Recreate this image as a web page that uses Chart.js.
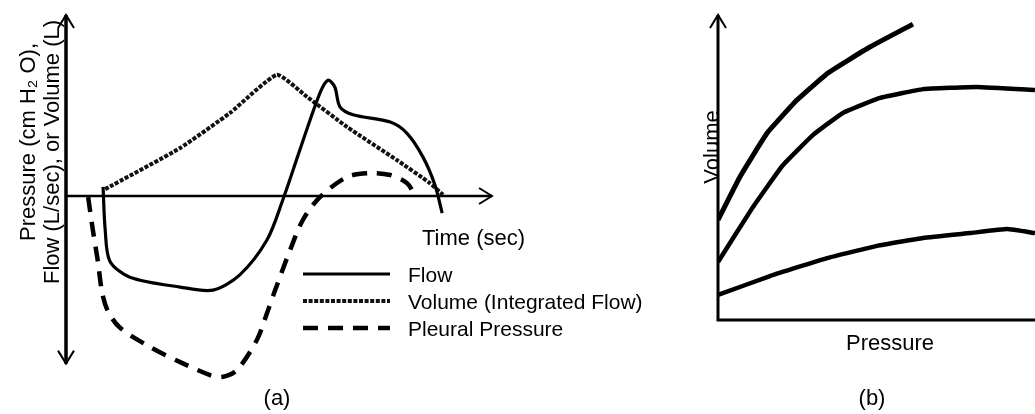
<!DOCTYPE html>
<html>
<head>
<meta charset="utf-8">
<title>Flow, volume and pleural pressure</title>
<script src="https://cdn.jsdelivr.net/npm/chart.js@4.4.0/dist/chart.umd.min.js"></script>
<style>
    body { margin: 0; background: #fff; }
    #wrapA { position: absolute; left: 0; top: 0; width: 690px; height: 414px; }
    #wrapB { position: absolute; left: 690px; top: 0; width: 345px; height: 414px; }
</style>
</head>
<body>
<div id="wrapA"><canvas id="chartA"></canvas></div>
<div id="wrapB"><canvas id="chartB"></canvas></div>
<script>
    // panel (a): time vs signal (arbitrary units)
    var flowTime = [0.87, 0.92, 1.03, 1.50, 2.68, 3.45, 4.08, 4.72, 5.09, 5.49, 5.96, 6.15, 6.31, 6.43, 6.74, 7.61, 8.00, 8.38, 8.66, 8.83];
    var flowValue = [0.24, -0.89, -1.71, -2.13, -2.39, -2.47, -2.07, -1.15, -0.10, 1.21, 2.70, 3.04, 2.86, 2.34, 2.13, 1.94, 1.65, 1.02, 0.29, -0.45];
    var volumeTime = [0.92, 2.68, 3.85, 4.95, 5.66, 6.60, 7.77, 8.54, 8.85];
    var volumeValue = [0.18, 1.26, 2.18, 3.18, 2.60, 1.81, 0.94, 0.34, 0.03];
    var pleuralTime = [0.52, 0.63, 0.75, 0.85, 0.99, 1.27, 1.97, 2.68, 3.38, 3.66, 4.01, 4.48, 4.72, 4.91, 5.26, 5.56, 5.96, 6.60, 7.14, 7.61, 8.00, 8.19];
    var pleuralValue = [-0.03, -0.89, -1.73, -2.55, -3.04, -3.46, -3.96, -4.36, -4.70, -4.75, -4.57, -3.78, -3.07, -2.47, -1.42, -0.63, -0.03, 0.50, 0.60, 0.55, 0.34, 0.03];
    var seriesNames = ["Flow", "Volume (Integrated Flow)", "Pleural Pressure"];

    // panel (b): pressure-volume curves
    var topPressure = [0, 0.69, 1.55, 2.49, 3.47, 4.79, 6.15];
    var topVolume = [3.28, 4.69, 6.13, 7.21, 8.10, 8.95, 9.70];
    var midPressure = [0, 1.10, 2.05, 3.00, 3.94, 5.11, 6.47, 8.17, 10];
    var midVolume = [1.90, 3.70, 5.08, 6.07, 6.79, 7.28, 7.57, 7.64, 7.54];
    var lowPressure = [0, 1.64, 3.44, 5.02, 6.47, 7.95, 9.12, 10];
    var lowVolume = [0.82, 1.44, 2.03, 2.43, 2.69, 2.85, 2.98, 2.85];

    var FONT = '"Liberation Sans", Arial, sans-serif';

    function pts(xs, ys) {
        return xs.map(function (x, i) { return { x: x, y: ys[i] }; });
    }

    function arrowHead(ctx, x, y, dx, dy) {
        var len = 13, half = 8;
        ctx.beginPath();
        ctx.moveTo(x - dx * len - dy * half, y - dy * len + dx * half);
        ctx.lineTo(x, y);
        ctx.lineTo(x - dx * len + dy * half, y - dy * len - dx * half);
        ctx.stroke();
    }

    function rotatedText(ctx, text, x, y) {
        ctx.save();
        ctx.translate(x, y);
        ctx.rotate(-Math.PI / 2);
        ctx.textAlign = "center";
        ctx.fillText(text, 0, 0);
        ctx.restore();
    }

    var panelA = {
        id: "panelA",
        beforeDatasetsDraw: function (chart) {
            var ctx = chart.ctx, xs = chart.scales.x, ys = chart.scales.y;
            var x0 = xs.getPixelForValue(0), y0 = ys.getPixelForValue(0);
            var top = ys.getPixelForValue(4.75), bottom = ys.getPixelForValue(-4.4);
            var right = xs.getPixelForValue(10);
            ctx.save();
            ctx.strokeStyle = "#000";
            ctx.lineWidth = 3.5;
            ctx.beginPath();
            ctx.moveTo(x0, top); ctx.lineTo(x0, bottom);
            ctx.stroke();
            ctx.lineWidth = 2.5;
            ctx.beginPath();
            ctx.moveTo(x0, y0); ctx.lineTo(right, y0);
            ctx.stroke();
            ctx.lineWidth = 2;
            arrowHead(ctx, x0, top, 0, -1);
            arrowHead(ctx, x0, bottom, 0, 1);
            arrowHead(ctx, right, y0, 1, 0);
            ctx.restore();
        },
        afterDraw: function (chart) {
            var ctx = chart.ctx;
            ctx.save();
            ctx.fillStyle = "#000";
            ctx.font = "22px " + FONT;
            rotatedText(ctx, "Pressure (cm H\u2082 O),", 35, 142);
            rotatedText(ctx, "Flow (L/sec), or Volume (L)", 59, 152);
            ctx.textAlign = "left";
            ctx.fillText("Time (sec)", 422, 245);
            ctx.textAlign = "center";
            ctx.fillText("(a)", 277, 405);

            // legend
            ctx.font = "21px " + FONT;
            ctx.textAlign = "left";
            chart.data.datasets.forEach(function (ds, i) {
                var y = 274 + i * 27;
                ctx.save();
                ctx.strokeStyle = ds.borderColor;
                ctx.lineWidth = ds.borderWidth;
                ctx.setLineDash(ds.borderDash || []);
                ctx.beginPath();
                ctx.moveTo(303, y); ctx.lineTo(390, y);
                ctx.stroke();
                ctx.restore();
                ctx.fillText(ds.label, 408, y + 8);
            });
            ctx.restore();
        }
    };

    var panelB = {
        id: "panelB",
        beforeDatasetsDraw: function (chart) {
            var ctx = chart.ctx, xs = chart.scales.x, ys = chart.scales.y;
            var x0 = xs.getPixelForValue(0), y0 = ys.getPixelForValue(0);
            var top = chart.chartArea.top;
            ctx.save();
            ctx.strokeStyle = "#000";
            ctx.lineWidth = 3;
            ctx.beginPath();
            ctx.moveTo(x0, y0); ctx.lineTo(x0, top);
            ctx.moveTo(x0 - 1.5, y0); ctx.lineTo(chart.width, y0);
            ctx.stroke();
            ctx.lineWidth = 2;
            arrowHead(ctx, x0, top, 0, -1);
            ctx.restore();
        },
        afterDraw: function (chart) {
            var ctx = chart.ctx;
            ctx.save();
            ctx.fillStyle = "#000";
            ctx.font = "22px " + FONT;
            rotatedText(ctx, "Volume", 29, 147);
            ctx.textAlign = "center";
            ctx.fillText("Pressure", 200, 350);
            ctx.fillText("(b)", 182, 405);
            ctx.restore();
        }
    };

    new Chart(document.getElementById("chartA"), {
        type: "scatter",
        data: {
            datasets: [{
                label: seriesNames[0],
                data: pts(flowTime, flowValue),
                showLine: true,
                borderColor: "#000",
                borderWidth: 3.2,
                pointRadius: 0,
                tension: 0.3
            }, {
                label: seriesNames[1],
                data: pts(volumeTime, volumeValue),
                showLine: true,
                borderColor: "#111",
                borderWidth: 4,
                borderDash: [4, 1.6],
                pointRadius: 0,
                tension: 0.15
            }, {
                label: seriesNames[2],
                data: pts(pleuralTime, pleuralValue),
                showLine: true,
                borderColor: "#000",
                borderWidth: 4.5,
                borderDash: [15, 10],
                pointRadius: 0,
                tension: 0.3
            }]
        },
        options: {
            responsive: true,
            maintainAspectRatio: false,
            animation: false,
            layout: { padding: { left: 66, right: 198, top: 15, bottom: 27.5 } },
            scales: {
                x: { type: "linear", display: false, min: 0, max: 10 },
                y: { type: "linear", display: false, min: -5, max: 4.75 }
            },
            plugins: { legend: { display: false }, tooltip: { enabled: false } }
        },
        plugins: [panelA]
    });

    new Chart(document.getElementById("chartB"), {
        type: "scatter",
        data: {
            datasets: [{
                label: "upper",
                data: pts(topPressure, topVolume),
                showLine: true,
                borderColor: "#000",
                borderWidth: 5,
                pointRadius: 0,
                tension: 0.1
            }, {
                label: "middle",
                data: pts(midPressure, midVolume),
                showLine: true,
                borderColor: "#000",
                borderWidth: 4.5,
                pointRadius: 0,
                tension: 0.1
            }, {
                label: "lower",
                data: pts(lowPressure, lowVolume),
                showLine: true,
                borderColor: "#000",
                borderWidth: 4.5,
                pointRadius: 0,
                tension: 0.1
            }]
        },
        options: {
            responsive: true,
            maintainAspectRatio: false,
            animation: false,
            layout: { padding: { left: 28, right: 0, top: 15, bottom: 94 } },
            scales: {
                x: { type: "linear", display: false, min: 0, max: 10 },
                y: { type: "linear", display: false, min: 0, max: 10 }
            },
            plugins: { legend: { display: false }, tooltip: { enabled: false } }
        },
        plugins: [panelB]
    });
</script>
</body>
</html>
